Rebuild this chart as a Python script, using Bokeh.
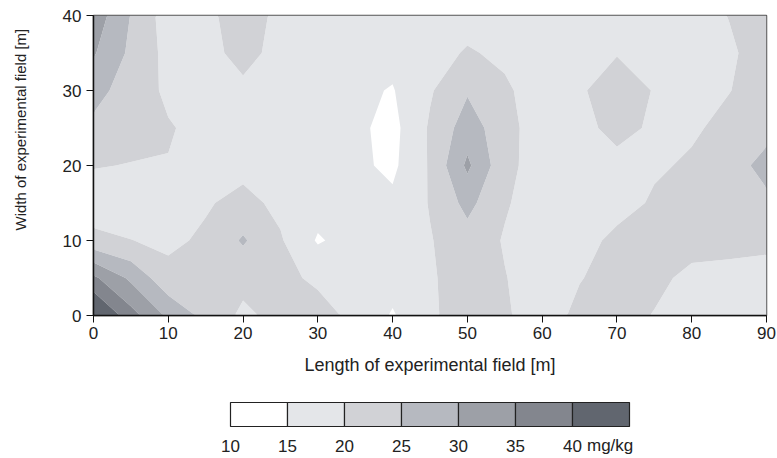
import numpy as np
from bokeh.plotting import figure
from bokeh.layouts import column
from bokeh.models import Range1d, FixedTicker, Title
from bokeh.embed import file_html
from bokeh.resources import INLINE
from bokeh.core.properties import value

# ---- data ----
x_m = [0, 5, 10, 15, 20, 25, 30, 35, 40, 45, 50, 55, 60, 65, 70, 75, 80, 85, 90]
y_m = [0, 5, 10, 15, 20, 25, 30, 35, 40]

z_y0  = [47, 37, 29, 23.5, 19, 21.5, 21.5, 19, 14.5, 19.5, 21.5, 20.5, 18, 21, 21.5, 19.8, 18, 17.5, 17.5]
z_y5  = [36, 29, 21.5, 22.5, 21.5, 21, 19.3, 17.5, 17, 19.5, 22, 20.2, 17.5, 19.8, 21.5, 21, 19, 19, 19]
z_y10 = [21.5, 20.1, 19, 20.8, 25.6, 20.5, 14.5, 17, 16.5, 19.7, 23, 19.6, 17.5, 18.5, 21, 21.5, 21.5, 21, 20.6]
z_y15 = [17, 17, 17, 19.5, 21.5, 18.8, 17, 16.5, 16, 20.3, 26.5, 20.5, 17.5, 18, 18.5, 20.5, 21.5, 22, 24]
z_y20 = [20.3, 19.8, 19.8, 18, 18.5, 17.5, 16.5, 16, 14, 20.5, 31, 21.5, 17.5, 18, 19, 19.5, 20.5, 23, 26.5]
z_y25 = [24, 22, 20.4, 18.5, 18, 17, 16.5, 16, 13.5, 20.6, 27.5, 22, 17, 19, 21, 19.5, 19.5, 21, 23.5]
z_y30 = [26.5, 23, 19, 18, 19, 17.5, 17, 16, 14.7, 19.5, 24.5, 20.8, 17.5, 19.5, 22, 19.8, 19, 19.9, 21.5]
z_y35 = [30.5, 24, 18.5, 18.5, 21.5, 18.5, 17, 16.5, 16.5, 18, 20.5, 19, 17.5, 18.5, 19.8, 18.5, 18.5, 19.5, 21.5]
z_y40 = [33, 24.8, 17.5, 19, 22, 19, 16.5, 17, 17, 17.5, 18, 17.5, 17, 17.5, 18.5, 18, 18.5, 20.1, 22]

levels = [10, 15, 20, 25, 30, 35, 40, 50]
level_colors = ["#ffffff", "#e4e6e9", "#d1d2d6", "#b6b9c0", "#9da0a7", "#83868e", "#61666f"]
cbar_labels = ["10", "15", "20", "25", "30", "35", "40"]
x_ticks = [0, 10, 20, 30, 40, 50, 60, 70, 80, 90]
y_ticks = [0, 10, 20, 30, 40]

FONT = "Liberation Sans"
TXT = "#222222"

z = np.array([z_y0, z_y5, z_y10, z_y15, z_y20, z_y25, z_y30, z_y35, z_y40], dtype=float)
X, Y = np.meshgrid(np.array(x_m, dtype=float), np.array(y_m, dtype=float))

p = figure(frame_width=673, frame_height=300,
           x_range=Range1d(0, 90), y_range=Range1d(0, 40),
           output_backend="svg", toolbar_location=None,
           min_border_left=93, min_border_right=11, min_border_top=15, min_border_bottom=75)
p.contour(X, Y, z, levels=levels, fill_color=level_colors)

p.xgrid.visible = False
p.ygrid.visible = False
p.outline_line_color = "#555555"
p.outline_line_width = 1.5
p.background_fill_color = "white"

p.xaxis.ticker = FixedTicker(ticks=x_ticks)
p.yaxis.ticker = FixedTicker(ticks=y_ticks)
for ax in (p.xaxis[0], p.yaxis[0]):
    ax.axis_line_color = "#111111"
    ax.axis_line_width = 1.5
    ax.major_tick_line_color = "#111111"
    ax.major_tick_in = 0
    ax.major_tick_out = 7
    ax.minor_tick_line_color = None
    ax.major_label_text_font = FONT
    ax.major_label_text_font_size = "17px"
    ax.major_label_text_color = TXT
    ax.axis_label_text_font = FONT
    ax.axis_label_text_font_style = "normal"
    ax.axis_label_text_color = TXT

p.xaxis.axis_label = "Length of experimental field [m]"
p.xaxis.axis_label_text_font_size = "18px"
p.xaxis.axis_label_standoff = 13
p.xaxis.major_label_standoff = 4
p.yaxis.major_label_standoff = 5

# spacing between the y tick labels and the y title
p.add_layout(Title(text=" ", standoff=4, text_font=FONT, text_font_size="15px"), "left")
# y-axis title as a side-panel title, shifted upward as in the reference
p.add_layout(Title(text="Width of experimental field [m]", align="left", offset=85,
                   standoff=16, text_font=FONT, text_font_size="15px",
                   text_font_style="normal", text_color=TXT), "left")

# ---- colour bar (separate strip; its frame is aligned with the main frame) ----
px_per_unit = 399.0 / 35.0
cb_start = 10 - (230 - 93) / px_per_unit
cb = figure(width=777, height=68,
            x_range=Range1d(cb_start, cb_start + 673 / px_per_unit),
            y_range=Range1d(0, 68),
            output_backend="svg", toolbar_location=None,
            x_axis_location=None, y_axis_location=None,
            min_border_left=93, min_border_right=11, min_border_top=0, min_border_bottom=0)
cb.xgrid.visible = False
cb.ygrid.visible = False
cb.outline_line_color = None

box_left = levels[:-1]
box_right = [lv + 5 for lv in levels[:-1]]
cb.quad(left=box_left, right=box_right, bottom=32, top=56,
        fill_color=level_colors, line_color="#222222", line_width=1.2)
cb.text(x=levels[:-1], y=13, text=cbar_labels, text_align="center", text_baseline="middle",
        text_font=value(FONT), text_font_size="17px", text_color=TXT)
cb.text(x=[10 + (586.5 - 230) / px_per_unit], y=13, text=["mg/kg"], text_align="left",
        text_baseline="middle", text_font=value(FONT), text_font_size="17px", text_color=TXT)

layout = column(p, cb, spacing=0)
open("out.html", "w").write(file_html(layout, INLINE))
